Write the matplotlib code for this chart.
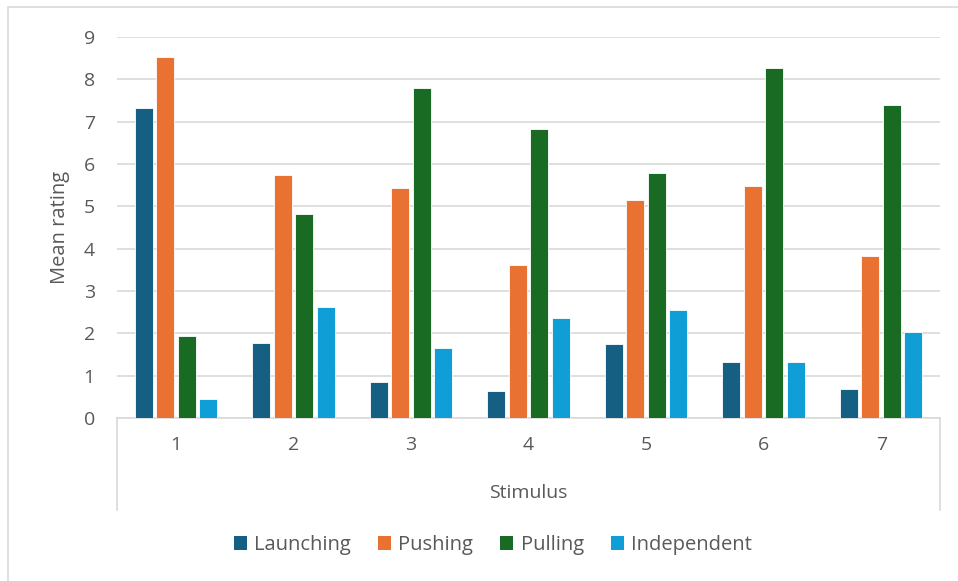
import matplotlib
matplotlib.use("Agg")
import matplotlib.pyplot as plt
import numpy as np
from matplotlib.patches import Rectangle, Patch
from matplotlib.lines import Line2D

plt.rcParams['font.family'] = ['Open Sans', 'DejaVu Sans']

# Data
stimuli = ["1", "2", "3", "4", "5", "6", "7"]
series_names = ["Launching", "Pushing", "Pulling", "Independent"]
launching = [7.32, 1.78, 0.86, 0.64, 1.74, 1.33, 0.69]
pushing = [8.52, 5.75, 5.43, 3.61, 5.16, 5.48, 3.83]
pulling = [1.93, 4.82, 7.80, 6.83, 5.78, 8.26, 7.40]
independent = [0.44, 2.63, 1.65, 2.37, 2.55, 1.33, 2.02]
y_ticks = [0, 1, 2, 3, 4, 5, 6, 7, 8, 9]

colors = ["#156082", "#E97132", "#196B24", "#0F9ED5"]
text_color = "#595959"
grid_color = "#D9D9D9"

W, H = 958, 581
fig = plt.figure(figsize=(W / 100, H / 100), dpi=100)

# outer chart frame
fig.patches.append(Rectangle((8 / W, -0.1), 1.2, 1 - 7 / H + 0.1,
                             transform=fig.transFigure, fill=False,
                             edgecolor=grid_color, linewidth=1.2))

left, right, top, bottom = 117, 940, 37, 418
ax = fig.add_axes([left / W, 1 - bottom / H, (right - left) / W, (bottom - top) / H])

x = np.arange(len(stimuli))
bar_w = 0.153
step = 0.183
all_series = [launching, pushing, pulling, independent]
for i, (vals, c) in enumerate(zip(all_series, colors)):
    ax.bar(x + (i - 1.5) * step, vals, width=bar_w, color=c,
           edgecolor="white", linewidth=0.6, zorder=3)

ax.set_xlim(-0.5, len(stimuli) - 0.5)
ax.set_ylim(0, 9)
ax.set_yticks(y_ticks)
ax.set_yticklabels([str(t) for t in y_ticks])
ax.set_xticks(x)
ax.set_xticklabels(stimuli)
ax.tick_params(axis="both", length=0, labelsize=14, colors=text_color)
ax.tick_params(axis="y", pad=16)
ax.tick_params(axis="x", pad=13)
ax.yaxis.grid(True, color=grid_color, linewidth=1.2, zorder=0)
for s in ["top", "right", "left"]:
    ax.spines[s].set_visible(False)
ax.spines["bottom"].set_color(grid_color)
ax.spines["bottom"].set_linewidth(1.2)

# category axis box sides extending below the plot
drop = (510 - bottom) / (bottom - top)
for xa in (0, 1):
    ax.add_line(Line2D([xa, xa], [0, -drop], transform=ax.transAxes,
                       color=grid_color, linewidth=1.2, clip_on=False))

ax.set_ylabel("Mean rating", fontsize=14.5, color=text_color, labelpad=10)
fig.text((left + right) / 2 / W, 1 - 493 / H, "Stimulus", ha="center", va="center",
         fontsize=14, color=text_color)

handles = [Patch(facecolor=c, edgecolor="none") for c in colors]
fig.legend(handles, series_names, loc="center", ncol=4,
           bbox_to_anchor=(493 / W, 1 - 545 / H), frameon=False,
           fontsize=14.5, labelcolor=text_color, handlelength=0.65, handleheight=0.65,
           handletextpad=0.35, columnspacing=1.35)

fig.savefig("out.png", dpi=100)
